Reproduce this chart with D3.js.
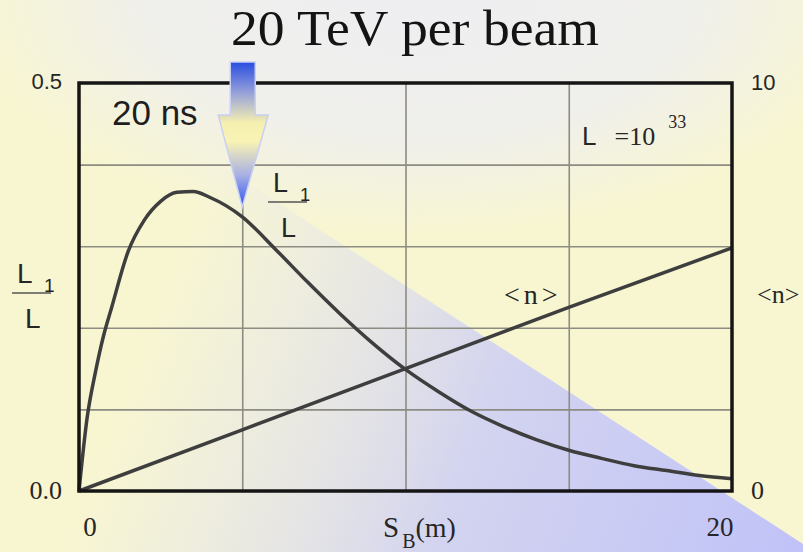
<!DOCTYPE html>
<html>
<head>
<meta charset="utf-8">
<script src="https://cdn.jsdelivr.net/npm/d3@7"></script>
<style>
  body { margin: 0; }
  svg { display: block; }
</style>
</head>
<body>
<div id="chart"></div>
<script>
    const width = 803, height = 552;

    // beam-beam separation S_B (m) and the L1/L curve
    const sB = [0, 0.25, 0.5, 0.75, 1, 1.5, 2, 2.5, 3, 3.5, 4, 5, 6, 7, 8, 9, 10, 11, 12, 13, 14, 15, 16, 17, 18, 19, 20];
    const l1Ratio = [0, 0.09, 0.145, 0.19, 0.225, 0.293, 0.332, 0.355, 0.366, 0.367, 0.36, 0.336, 0.297, 0.256, 0.217, 0.181, 0.149, 0.122, 0.098, 0.079, 0.063, 0.050, 0.040, 0.031, 0.025, 0.019, 0.015];

    // mean number of interactions <n> (right axis)
    const nS = [0, 5, 10, 15, 20];
    const nMean = [0, 1.5, 3.0, 4.5, 5.96];

    const xTicks = [0, 20];
    const leftTicks = [0, 0.5];
    const rightTicks = [0, 10];

    const margin = {left: 79, right: 71, top: 83, bottom: 61};

    const svg = d3.select("#chart").append("svg")
        .attr("width", width)
        .attr("height", height);

    const defs = svg.append("defs");

    // background pieces
    const glow = defs.append("radialGradient").attr("id", "glow")
        .attr("gradientUnits", "userSpaceOnUse")
        .attr("cx", 420).attr("cy", -10).attr("r", 330)
        .attr("gradientTransform", "translate(420,-10) scale(1.4,0.75) translate(-420,10)");
    glow.append("stop").attr("offset", 0).attr("stop-color", "#eeeef2").attr("stop-opacity", 1);
    glow.append("stop").attr("offset", 0.6).attr("stop-color", "#eeeef2").attr("stop-opacity", 0.8);
    glow.append("stop").attr("offset", 1).attr("stop-color", "#eeeef2").attr("stop-opacity", 0);

    const blue = defs.append("linearGradient").attr("id", "blueWedge")
        .attr("gradientUnits", "userSpaceOnUse")
        .attr("x1", 803).attr("y1", 552).attr("x2", 150).attr("y2", 300);
    blue.append("stop").attr("offset", 0).attr("stop-color", "#c0c2f8").attr("stop-opacity", 1);
    blue.append("stop").attr("offset", 0.5).attr("stop-color", "#d0d1f2").attr("stop-opacity", 0.92);
    blue.append("stop").attr("offset", 0.8).attr("stop-color", "#e2e2ee").attr("stop-opacity", 0.5);
    blue.append("stop").attr("offset", 1).attr("stop-color", "#e8e8ee").attr("stop-opacity", 0);

    const arrowGrad = defs.append("linearGradient").attr("id", "arrowGrad")
        .attr("x1", 0).attr("y1", 0).attr("x2", 0).attr("y2", 1);
    [[0, "#2a4de2"], [0.22, "#9aa4d8"], [0.42, "#f6f0b0"], [0.55, "#f8f2b4"], [0.78, "#a8b0e4"], [1, "#2f52f0"]]
        .forEach(s => arrowGrad.append("stop").attr("offset", s[0]).attr("stop-color", s[1]));

    svg.append("rect").attr("width", width).attr("height", height).attr("fill", "#f8f6d0");
    svg.append("rect").attr("width", width).attr("height", 300).attr("fill", "url(#glow)");
    svg.append("path")
        .attr("d", "M0,22 L803,544 L803,552 L0,552 Z")
        .attr("fill", "url(#blueWedge)");

    // scales
    const x = d3.scaleLinear().domain([0, 20]).range([margin.left, width - margin.right]);
    const yL = d3.scaleLinear().domain([0, 0.5]).range([height - margin.bottom, margin.top]);
    const yR = d3.scaleLinear().domain([0, 10]).range([height - margin.bottom, margin.top]);
    const plotW = width - margin.left - margin.right;
    const plotH = height - margin.top - margin.bottom;

    // grid
    svg.append("g")
        .attr("transform", `translate(0,${height - margin.bottom})`)
        .call(d3.axisBottom(x).tickValues([5, 10, 15]).tickSize(-plotH).tickFormat(""))
        .call(g => g.select(".domain").remove())
        .call(g => g.selectAll("line").attr("stroke", "#8c8c82").attr("stroke-width", 1.6));
    svg.append("g")
        .attr("transform", `translate(${margin.left},0)`)
        .call(d3.axisLeft(yL).tickValues([0.1, 0.2, 0.3, 0.4]).tickSize(-plotW).tickFormat(""))
        .call(g => g.select(".domain").remove())
        .call(g => g.selectAll("line").attr("stroke", "#8c8c82").attr("stroke-width", 1.6));

    // curves
    const l1Line = d3.line()
        .x((d, i) => x(sB[i]))
        .y(d => yL(d))
        .curve(d3.curveMonotoneX);
    svg.append("path")
        .attr("d", l1Line(l1Ratio))
        .attr("fill", "none")
        .attr("stroke", "#3e3e3e")
        .attr("stroke-width", 3.5);

    const nLine = d3.line()
        .x((d, i) => x(nS[i]))
        .y(d => yR(d));
    svg.append("path")
        .attr("d", nLine(nMean))
        .attr("fill", "none")
        .attr("stroke", "#3e3e3e")
        .attr("stroke-width", 3.5);

    // frame
    svg.append("rect")
        .attr("x", margin.left).attr("y", margin.top)
        .attr("width", plotW).attr("height", plotH)
        .attr("fill", "none")
        .attr("stroke", "#151515")
        .attr("stroke-width", 3.5);

    const sans = "'Liberation Sans', Arial, sans-serif";
    const serif = "'Liberation Serif', 'Times New Roman', serif";
    const ink = "#262626";

    // tick labels (mixed fonts, as in the slide)
    svg.selectAll(".xtick").data(xTicks).join("text")
        .attr("x", d => x(d) + (d === 0 ? 11 : -12))
        .attr("y", height - margin.bottom + 45)
        .attr("text-anchor", "middle")
        .attr("font-family", serif).attr("font-size", 27).attr("fill", ink)
        .text(d => d);
    svg.selectAll(".ltick").data(leftTicks).join("text")
        .attr("x", margin.left - 17)
        .attr("y", d => yL(d) + (d === 0 ? 8 : 6))
        .attr("text-anchor", "end")
        .attr("font-family", d => d === 0 ? serif : sans)
        .attr("font-size", d => d === 0 ? 26 : 22)
        .attr("fill", ink)
        .text(d => d.toFixed(1));
    svg.selectAll(".rtick").data(rightTicks).join("text")
        .attr("x", width - margin.right + 19)
        .attr("y", d => yR(d) + (d === 0 ? 8 : 7))
        .attr("font-family", d => d === 0 ? serif : sans)
        .attr("font-size", d => d === 0 ? 26 : 22)
        .attr("fill", ink)
        .text(d => d);

    // x axis title S_B(m)
    const xt = svg.append("text")
        .attr("x", 383).attr("y", 537)
        .attr("font-family", serif).attr("fill", ink);
    xt.append("tspan").attr("font-size", 29).text("S");
    xt.append("tspan").attr("font-size", 20).attr("dx", 3).attr("dy", 11).text("B");
    xt.append("tspan").attr("font-size", 28).attr("dy", -11).text("(m)");

    // L1/L fractions
    function fraction(x0, yTop, size) {
        const g = svg.append("g").attr("fill", ink).attr("font-family", sans);
        g.append("text").attr("x", x0 + 5).attr("y", yTop).attr("font-size", size).text("L");
        g.append("text").attr("x", x0 + 32).attr("y", yTop + 9).attr("font-size", size * 0.68).text("1");
        g.append("line").attr("x1", x0).attr("x2", x0 + 39)
            .attr("y1", yTop + 10).attr("y2", yTop + 10)
            .attr("stroke", "#555").attr("stroke-width", 1.5);
        g.append("text").attr("x", x0 + 13).attr("y", yTop + 45).attr("font-size", size).text("L");
    }
    fraction(12, 283, 28);
    fraction(268, 192, 27);

    svg.append("text")
        .attr("x", 757).attr("y", 303)
        .attr("font-family", serif).attr("font-size", 26).attr("fill", ink)
        .text("<n>");
    svg.append("text")
        .attr("x", 504).attr("y", 304)
        .attr("font-family", serif).attr("font-size", 28).attr("fill", ink)
        .attr("letter-spacing", 4)
        .text("<n>");

    // luminosity note
    const lum = svg.append("text").attr("x", 582).attr("y", 145).attr("fill", ink);
    lum.append("tspan").attr("font-family", sans).attr("font-size", 26).text("L");
    lum.append("tspan").attr("font-family", serif).attr("font-size", 26).attr("dx", 18).text("=10");
    lum.append("tspan").attr("font-family", serif).attr("font-size", 18).attr("dx", 13).attr("dy", -17).text("33");

    svg.append("text")
        .attr("x", 112).attr("y", 125)
        .attr("font-family", sans).attr("font-size", 35).attr("fill", "#1e1e1e")
        .text("20 ns");

    svg.append("text")
        .attr("x", 415).attr("y", 45)
        .attr("text-anchor", "middle")
        .attr("font-family", serif).attr("font-size", 50).attr("fill", "#141414")
        .attr("textLength", 368).attr("lengthAdjust", "spacingAndGlyphs")
        .text("20 TeV per beam");

    // arrow pointing at S_B = 5 m
    const ax = x(5);
    svg.append("path")
        .attr("d", `M${ax - 12},62 L${ax + 13},62 L${ax + 13},115 L${ax + 26},115 L${ax},207 L${ax - 24},115 L${ax - 12},115 Z`)
        .attr("fill", "url(#arrowGrad)")
        .attr("stroke", "#c8d0f4")
        .attr("stroke-width", 1.5);
</script>
</body>
</html>
